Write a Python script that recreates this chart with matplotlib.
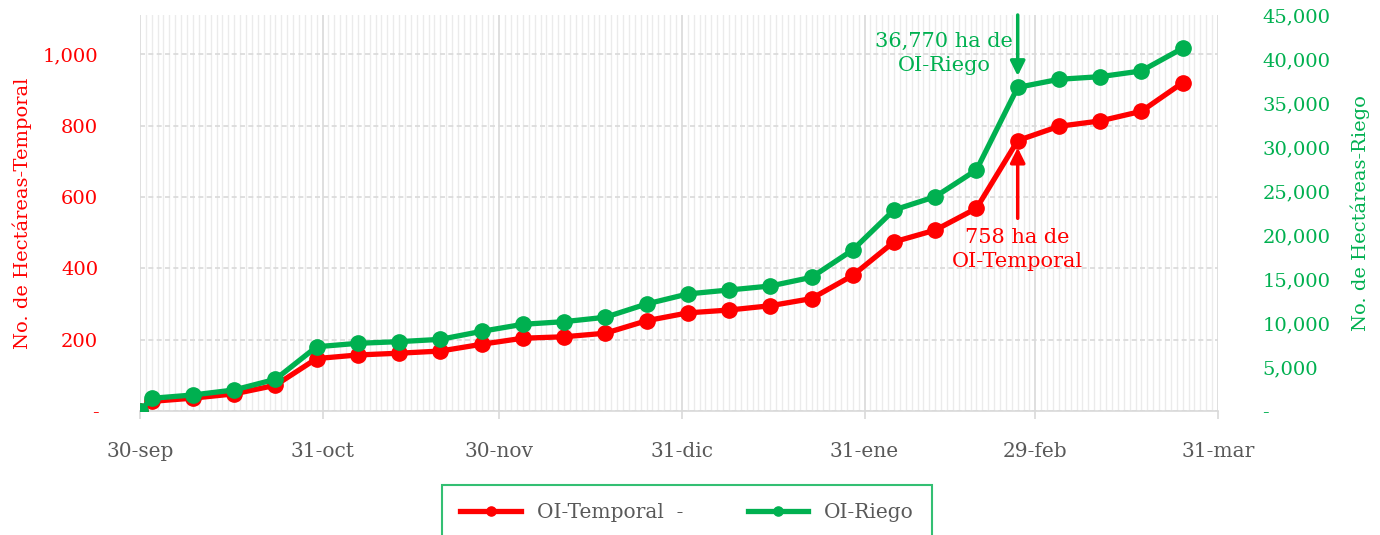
import matplotlib
matplotlib.use("Agg")
import matplotlib.pyplot as plt
import matplotlib.dates as mdates
from matplotlib.ticker import FuncFormatter, MultipleLocator
import pandas as pd

plt.rcParams['font.family'] = ['DejaVu Serif']

# weekly cumulative hectares
fechas = ['2019-09-30', '2019-10-02', '2019-10-09', '2019-10-16', '2019-10-23',
          '2019-10-30', '2019-11-06', '2019-11-13', '2019-11-20', '2019-11-27',
          '2019-12-04', '2019-12-11', '2019-12-18', '2019-12-25', '2020-01-01',
          '2020-01-08', '2020-01-15', '2020-01-22', '2020-01-29', '2020-02-05',
          '2020-02-12', '2020-02-19', '2020-02-26', '2020-03-04', '2020-03-11',
          '2020-03-18', '2020-03-25']
temporal = [0, 27, 36, 48, 72, 147, 157, 162, 168, 187,
            204, 208, 218, 253, 275, 283, 295, 315, 380, 474,
            507, 568, 758, 798, 813, 840, 920]
riego = [0, 1440, 1820, 2390, 3600, 7300, 7690, 7880, 8140, 9050,
         9850, 10150, 10650, 12160, 13300, 13750, 14200, 15190, 18300, 22840,
         24350, 27390, 36770, 37690, 37990, 38640, 41220]

tick_fechas = ['2019-09-30', '2019-10-31', '2019-11-30', '2019-12-31',
               '2020-01-31', '2020-02-29', '2020-03-31']
tick_labels = ['30-sep', '31-oct', '30-nov', '31-dic', '31-ene', '29-feb', '31-mar']

ROJO = '#FF0000'
VERDE = '#00B050'
GRIS = '#595959'

x = pd.to_datetime(fechas)
xt = pd.to_datetime(tick_fechas)

fig = plt.figure(figsize=(13.8, 5.35), dpi=100)
ax = fig.add_axes([0.1014, 0.2318, 0.7812, 0.7402])
ax2 = ax.twinx()

# grid: daily minor lines, monthly major lines, dashed horizontals
ax.set_xlim(xt[0], xt[-1])
ax.set_xticks(xt)
ax.set_xticklabels(tick_labels)
ax.xaxis.set_minor_locator(mdates.DayLocator())
ax.grid(which='minor', axis='x', color='#EBEBEB', lw=1.0)
ax.grid(which='major', axis='x', color='#D9D9D9', lw=1.2)
ax.grid(which='major', axis='y', color='#D9D9D9', lw=1.2, ls=(0, (3, 2)))
ax.set_axisbelow(True)

ax.set_ylim(0, 1110)
ax.yaxis.set_major_locator(MultipleLocator(200))
ax2.set_ylim(0, 45000)
ax2.yaxis.set_major_locator(MultipleLocator(5000))

fmt = lambda v, p: '-' if v == 0 else f'{v:,.0f}'
ax.yaxis.set_major_formatter(FuncFormatter(fmt))
ax2.yaxis.set_major_formatter(FuncFormatter(fmt))

l1, = ax.plot(x, temporal, color=ROJO, lw=3.8, marker='o', ms=11, zorder=3)
l2, = ax2.plot(x, riego, color=VERDE, lw=3.8, marker='o', ms=11, zorder=3)

for a in (ax, ax2):
    for s in a.spines.values():
        s.set_visible(False)
ax.spines['bottom'].set_visible(True)
ax.spines['bottom'].set_color('#D9D9D9')
ax.spines['bottom'].set_linewidth(1.2)

ax.tick_params(axis='x', which='major', colors='#D9D9D9', labelcolor=GRIS,
               labelsize=14.5, length=6, width=1.2, pad=16)
ax.tick_params(axis='x', which='minor', length=0)
ax.tick_params(axis='y', length=0, labelcolor=ROJO, labelsize=14, pad=30)
ax2.tick_params(axis='y', length=0, labelcolor=VERDE, labelsize=14, pad=32)

ax.set_ylabel('No. de Hectáreas-Temporal', color=ROJO, fontsize=14, labelpad=8)
ax2.set_ylabel('No. de Hectáreas-Riego', color=VERDE, fontsize=14, labelpad=14)

# annotations
i = fechas.index('2020-02-26')
ax2.annotate('', xy=(x[i], riego[i] + 1300), xytext=(x[i], 45000),
             arrowprops=dict(arrowstyle='-|>', color=VERDE, lw=2.5,
                             mutation_scale=22, shrinkA=0, shrinkB=0))
ax2.text(x[i] - pd.Timedelta(days=12.5), 40600, '36,770 ha de\nOI-Riego',
         color=VERDE, fontsize=15, ha='center', va='center', linespacing=1.35)
ax.annotate('', xy=(x[i], temporal[i] - 20), xytext=(x[i], 540),
            arrowprops=dict(arrowstyle='-|>', color=ROJO, lw=2.5,
                            mutation_scale=22, shrinkA=0, shrinkB=0))
ax.text(x[i], 452, '758 ha de\nOI-Temporal', color=ROJO, fontsize=15,
        ha='center', va='center', linespacing=1.35)

leg = fig.legend([l1, l2], ['OI-Temporal  -', 'OI-Riego'], ncol=2,
                 loc='upper center', bbox_to_anchor=(0.498, 0.0935),
                 borderaxespad=0, frameon=True, fontsize=14.5, fancybox=False,
                 handlelength=3.0, columnspacing=3.2, borderpad=0.9,
                 markerscale=0.6)
leg.get_frame().set_edgecolor(VERDE)
leg.get_frame().set_linewidth(1.5)
for t in leg.get_texts():
    t.set_color(GRIS)

fig.savefig('out.png', dpi=100)
